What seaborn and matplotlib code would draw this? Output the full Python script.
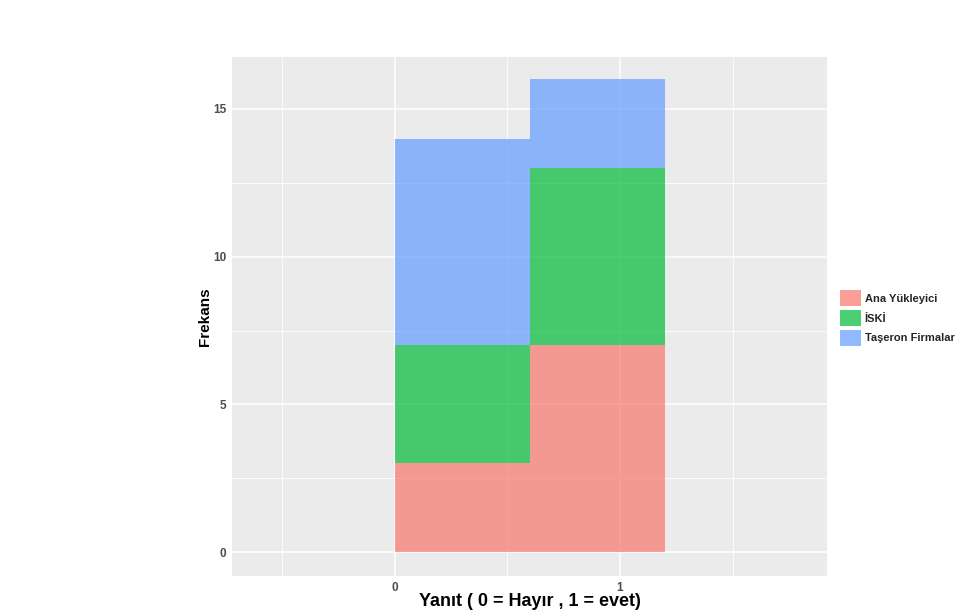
import numpy as np
import pandas as pd
import matplotlib.pyplot as plt
import seaborn as sns
from matplotlib.patches import Patch
from matplotlib.ticker import MultipleLocator

# counts per answer (0 = Hayır, 1 = evet) for each group
groups = ["Ana Yükleyici", "İSKİ", "Taşeron Firmalar"]
answers = [0, 1]
counts_ana = [3, 7]
counts_iski = [4, 6]
counts_taseron = [7, 3]
colors = ["#F8766D", "#00BA38", "#619CFF"]

rows = []
for g, cnts in zip(groups, [counts_ana, counts_iski, counts_taseron]):
    for a, c in zip(answers, cnts):
        rows.append({"yanit": a, "grup": g, "n": c})
df = pd.DataFrame(rows)

sns.set_style("darkgrid")
plt.rcParams["font.family"] = ["Liberation Sans", "DejaVu Sans"]

fig = plt.figure(figsize=(9.59, 6.14), dpi=100)
ax = fig.add_axes([0.2419, 0.0619, 0.6205, 0.8453])
ax.set_facecolor("#EBEBEB")

# seaborn puts the first hue level on top of the stack, so reverse
sns.histplot(data=df, x="yanit", weights="n", hue="grup",
             hue_order=groups[::-1], palette=colors[::-1],
             multiple="stack", bins=[0, 0.6, 1.2], alpha=0.7,
             linewidth=0, legend=False, ax=ax)

ax.set_xlim(-0.724, 1.92)
ax.set_ylim(-0.81, 16.76)
ax.set_xticks([0, 1])
ax.set_yticks([0, 5, 10, 15])
ax.xaxis.set_minor_locator(MultipleLocator(1, offset=0.5))
ax.yaxis.set_minor_locator(MultipleLocator(5, offset=2.5))
ax.grid(which="major", color="white", linewidth=1.1)
ax.grid(which="minor", color="white", linewidth=0.6)
ax.set_axisbelow(True)
for s in ax.spines.values():
    s.set_visible(False)
ax.tick_params(which="major", length=3, width=0.8, color="#333333",
               labelsize=8.5, labelcolor="#4D4D4D", pad=1)
ax.tick_params(axis="x", which="major", pad=1.5)
ax.tick_params(which="minor", length=0)
for lab in ax.get_xticklabels() + ax.get_yticklabels():
    lab.set_fontweight("bold")

ax.set_xlabel("Yanıt ( 0 = Hayır , 1 = evet)", fontsize=13, fontweight="bold",
              color="black", labelpad=-1)
ax.set_ylabel("Frekans", fontsize=11, fontweight="bold", color="black",
              labelpad=0.5)

handles = [Patch(facecolor=c, alpha=0.7, edgecolor="none") for c in colors]
fig.legend(handles, groups, loc="center left", bbox_to_anchor=(0.8715, 0.482),
           frameon=False, prop={"weight": "bold", "size": 8},
           handlelength=1.9, handleheight=1.9, handletextpad=0.3,
           labelspacing=0.3, borderaxespad=0)

fig.savefig("out.png", dpi=100)
